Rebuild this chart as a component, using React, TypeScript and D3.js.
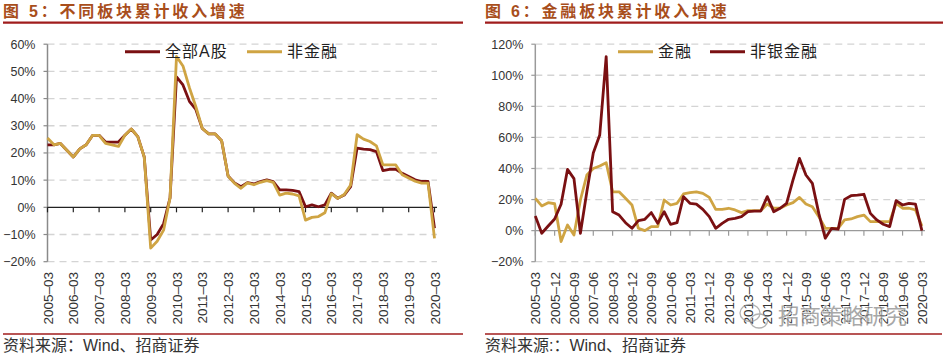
import React from 'react';
import * as d3 from 'd3';

// ---------- data ----------
const quarters: string[] = d3.range(61).map(
  (i) => `${2005 + Math.floor(i / 4)}-${String(3 + 3 * (i % 4)).padStart(2, '0')}`
);

const leftTicks = [
  '2005-03', '2006-03', '2007-03', '2008-03', '2009-03', '2010-03', '2011-03', '2012-03',
  '2013-03', '2014-03', '2015-03', '2016-03', '2017-03', '2018-03', '2019-03', '2020-03',
];
const rightTicks = [
  '2005-03', '2005-12', '2006-09', '2007-06', '2008-03', '2008-12', '2009-09', '2010-06',
  '2011-03', '2011-12', '2012-09', '2013-06', '2014-03', '2014-12', '2015-09', '2016-06',
  '2017-03', '2017-12', '2018-09', '2019-06', '2020-03',
];

const allA = [
  23, 23, 23.5, 21, 18.5, 21.5, 23, 26.5, 26.5, 24,
  24, 24, 26.5, 28.8, 26, 18.5, -12, -10, -6, 3.5,
  48, 45, 39, 36, 29, 27, 27, 24.5, 11.5, 9,
  7.6, 9.1, 8.6, 9.5, 10.1, 9.5, 6.4, 6.4, 6.2, 5.8,
  0.2, 0.9, 0.2, 0.9, 5.2, 3.3, 4.5, 7.6, 21.8, 21.4,
  21.2, 20.5, 13.5, 14, 14, 12.5, 11.3, 10.1, 9.5, 9.5,
  -7.7,
];
const nonFin = [
  25.5, 23, 23.5, 21, 18.5, 21.5, 23, 26.5, 26.5, 23.5,
  23, 22.4, 26.5, 28.8, 26, 18.5, -15, -12.5, -8.4, 3.5,
  55.5, 52, 44, 37, 29, 27, 27, 24.5, 11.5, 8.8,
  7, 9, 8.3, 9.2, 9.8, 9.2, 4.5, 5.2, 4.9, 4.2,
  -4.7, -3.7, -3.4, -2, 5, 3.3, 4.7, 8.2, 26.7, 25.1,
  24.2, 22.6, 15.6, 15.6, 15.6, 12, 10.8, 9.6, 8.9, 8.9,
  -11.4,
];
const fin = [
  20.8, 15.9, 18, 17.3, -7, 3.6, -2.8, 19.7, 35.8, 40,
  41.6, 43.7, 25, 25, 20.8, 16.5, 1.5, 0, 2.6, 2.6,
  19.7, 16.5, 17.6, 23.6, 24.4, 25, 24, 21.4, 13.7, 13.7,
  14.4, 13.3, 11.6, 12.9, 12.9, 12.9, 17.1, 14.4, 14.4, 16.5,
  18, 21.4, 17.1, 15.4, 9, 1.5, 1.5, 1.5, 6.9, 7.5,
  9, 10, 5.8, 5.8, 5.8, 5.8, 17.6, 14.4, 14.4, 13.3,
  3,
];
const nonBank = [
  9.4, -1.7, 3, 7.5, 17, 39.4, 33.5, -1.7, 25, 50,
  61.5, 112, 12.2, 10, 5.1, 1.5, 6.4, 7.3, 11.6, 4.7,
  12.2, 4, 5.1, 21.9, 17.6, 17.1, 13.7, 9, 1.5, 4.7,
  7.3, 7.9, 9, 12.2, 12.6, 12.6, 21.9, 12.2, 14.4, 17.6,
  32.6, 46.5, 35.8, 30.4, 11.1, -4.9, 1.5, 0.9, 20.1, 22.5,
  22.9, 23.4, 11.1, 6.9, 4.1, 2.6, 19.3, 16.5, 17.6, 17.1,
  0,
];

const leftYTicks = [-20, -10, 0, 10, 20, 30, 40, 50, 60];
const rightYTicks = [-20, 0, 20, 40, 60, 80, 100, 120];

const DARK = '#7a1012';
const GOLD = '#cfa443';
const TITLE = '#a84e1c';
const RULE = '#a01c1c';
const NUM_FONT = '"Liberation Sans", Arial, sans-serif';
const CJK_FONT = '"Liberation Sans", "Noto Sans CJK SC", sans-serif';

type Series = { name: string; values: number[]; color: string; lx: number };

function Panel(props: {
  xr: [number, number];
  gridEnd: number;
  yDomain: [number, number];
  yTicks: number[];
  xTicks: string[];
  series: Series[];
  zeroColor: string;
  axisColor: string;
}) {
  const { xr, gridEnd, yDomain, yTicks, xTicks, series, zeroColor, axisColor } = props;
  const x = d3.scaleLinear().domain([0, quarters.length - 1]).range(xr);
  const y = d3.scaleLinear().domain(yDomain).range([261.7, 44.2]);
  const line = d3
    .line<number>()
    .x((_, i) => x(i))
    .y((d) => y(d));
  const x0 = xr[0];
  const fmt = (v: number) => `${v < 0 ? '−' : ''}${Math.abs(v)}%`;
  return (
    <g>
      {yTicks
        .filter((v) => v !== 0)
        .map((v) => (
          <line
            key={'g' + v}
            x1={x0}
            x2={gridEnd}
            y1={y(v)}
            y2={y(v)}
            stroke="#d4d4d4"
            strokeWidth={1.3}
            strokeDasharray="7,5"
          />
        ))}
      <line x1={x0} x2={x0} y1={y(yDomain[1])} y2={y(yDomain[0])} stroke={axisColor} strokeWidth={1.5} />
      {yTicks.map((v) => (
        <g key={'t' + v}>
          <line x1={x0 - 4} x2={x0} y1={y(v)} y2={y(v)} stroke={axisColor} strokeWidth={1.2} />
          <text
            x={x0 - 12}
            y={y(v)}
            dy="0.36em"
            textAnchor="end"
            fontFamily={NUM_FONT}
            fontSize={12.5}
            fill="#333"
          >
            {fmt(v)}
          </text>
        </g>
      ))}
      <line x1={x0} x2={gridEnd} y1={y(0)} y2={y(0)} stroke={zeroColor} strokeWidth={1.3} />
      {xTicks.map((t) => {
        const xi = x(quarters.indexOf(t));
        return (
          <g key={'x' + t}>
            <line x1={xi} x2={xi} y1={y(0)} y2={y(0) + 5} stroke={zeroColor} strokeWidth={1.2} />
            <text
              transform={`translate(${xi},272) rotate(-90)`}
              dy="0.38em"
              textAnchor="end"
              fontFamily={NUM_FONT}
              fontSize={13.5}
              fill="#333"
            >
              {t.replace('-', '–')}
            </text>
          </g>
        );
      })}
      {series.map((s) => (
        <path
          key={s.name}
          d={line(s.values) || ''}
          fill="none"
          stroke={s.color}
          strokeWidth={2.8}
          strokeLinejoin="round"
        />
      ))}
      {series.map((s) => (
        <g key={'l' + s.name}>
          <line x1={s.lx} x2={s.lx + 35} y1={51.7} y2={51.7} stroke={s.color} strokeWidth={3} />
          <text
            x={s.lx + 40}
            y={51.7}
            dy="0.36em"
            fontFamily={CJK_FONT}
            fontSize={16}
            letterSpacing={1}
            fill="#222"
          >
            {s.name}
          </text>
        </g>
      ))}
    </g>
  );
}

export default function App() {
  return (
    <svg
      width={947}
      height={357}
      viewBox="0 0 947 357"
      style={{ position: 'absolute', left: 0, top: 0, background: '#fff' }}
    >
      {/* titles */}
      <text x={3} y={17} fontFamily={CJK_FONT} fontWeight="bold" fontSize={16} letterSpacing={2.8} fill={TITLE}>
        图 5：不同板块累计收入增速
      </text>
      <text x={485} y={17} fontFamily={CJK_FONT} fontWeight="bold" fontSize={16} letterSpacing={2.8} fill={TITLE}>
        图 6：金融板块累计收入增速
      </text>
      <line x1={3} x2={463} y1={22.7} y2={22.7} stroke={RULE} strokeWidth={2.2} />
      <line x1={485} x2={943} y1={22.7} y2={22.7} stroke={RULE} strokeWidth={2.2} />

      <Panel
        xr={[47.5, 434.5]}
        gridEnd={437}
        yDomain={[-20, 60]}
        yTicks={leftYTicks}
        xTicks={leftTicks}
        zeroColor="#222"
        axisColor="#8a8a8a"
        series={[
          { name: '全部A股', values: allA, color: DARK, lx: 125 },
          { name: '非金融', values: nonFin, color: GOLD, lx: 247 },
        ]}
      />
      <Panel
        xr={[535.3, 921.9]}
        gridEnd={925}
        yDomain={[-20, 120]}
        yTicks={rightYTicks}
        xTicks={rightTicks}
        zeroColor="#9a9a9a"
        axisColor="#9a9a9a"
        series={[
          { name: '金融', values: fin, color: GOLD, lx: 618 },
          { name: '非银金融', values: nonBank, color: DARK, lx: 710 },
        ]}
      />

      {/* watermark */}
      <g opacity={0.75}>
        <ellipse cx={750} cy={313} rx={10} ry={8.5} fill="none" stroke="#999" strokeWidth={1.3} />
        <ellipse cx={759} cy={321} rx={8.5} ry={7} fill="none" stroke="#999" strokeWidth={1.3} />
        <text
          x={778}
          y={324}
          fontFamily={CJK_FONT}
          fontSize={21.5}
          fill="#8c8c8c"
          stroke="#fff"
          strokeWidth={1.5}
          paintOrder="stroke"
        >
          招商策略研究
        </text>
      </g>

      {/* footers */}
      <line x1={3} x2={463} y1={334} y2={334} stroke={RULE} strokeWidth={1.4} />
      <line x1={485} x2={942} y1={334} y2={334} stroke={RULE} strokeWidth={1.4} />
      <text x={3} y={351} fontFamily={CJK_FONT} fontSize={16} fill="#333">
        资料来源：Wind、招商证券
      </text>
      <text x={485} y={351} fontFamily={CJK_FONT} fontSize={16} fill="#333">
        资料来源:：Wind、招商证券
      </text>
    </svg>
  );
}
